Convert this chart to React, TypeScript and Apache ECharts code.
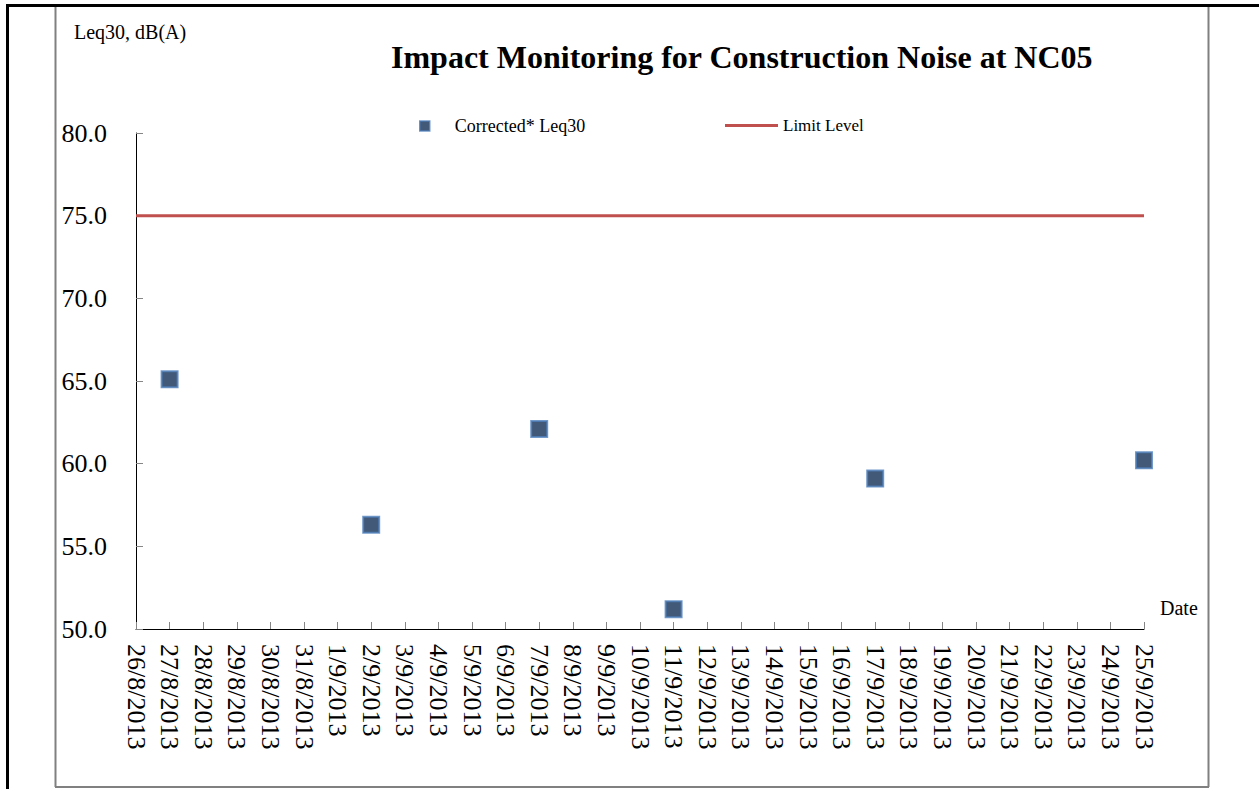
import React, { useEffect, useRef } from "react";
import * as echarts from "echarts";

const dates: string[] = [
  "26/8/2013", "27/8/2013", "28/8/2013", "29/8/2013", "30/8/2013", "31/8/2013",
  "1/9/2013", "2/9/2013", "3/9/2013", "4/9/2013", "5/9/2013", "6/9/2013",
  "7/9/2013", "8/9/2013", "9/9/2013", "10/9/2013", "11/9/2013", "12/9/2013",
  "13/9/2013", "14/9/2013", "15/9/2013", "16/9/2013", "17/9/2013", "18/9/2013",
  "19/9/2013", "20/9/2013", "21/9/2013", "22/9/2013", "23/9/2013", "24/9/2013",
  "25/9/2013",
];

const measuredDates: string[] = ["27/8/2013", "2/9/2013", "7/9/2013", "11/9/2013", "17/9/2013", "25/9/2013"];
const measuredLeq: number[] = [65.1, 56.3, 62.1, 51.2, 59.1, 60.2];
const limitLevel: number = 75;

const FONT = "Liberation Serif";

export default function App() {
  const ref = useRef<HTMLDivElement>(null);

  useEffect(() => {
    if (!ref.current) return;
    const chart = echarts.init(ref.current, null, { renderer: "svg" });
    const scatterData = measuredDates.map((d, i) => [d, measuredLeq[i]]);
    const limitData = dates.map(() => limitLevel);
    chart.setOption({
      animation: false,
      backgroundColor: "#ffffff",
      textStyle: { fontFamily: FONT, color: "#000" },
      grid: { left: 136, right: 115, top: 133, bottom: 160, containLabel: false },
      title: {
        text: "Impact Monitoring for Construction Noise at NC05",
        left: 386,
        top: 36,
        textStyle: { fontFamily: FONT, fontWeight: "bold", fontSize: 32, color: "#000" },
      },
      legend: [
        {
          data: [{ name: "Corrected* Leq30", icon: "rect" }],
          left: 414,
          top: 112,
          itemWidth: 10,
          itemHeight: 10,
          itemGap: 0,
          itemStyle: { color: "#132F55", borderColor: "#4F81BD", borderWidth: 1.5 },
          textStyle: { fontFamily: FONT, fontSize: 18, color: "#000", padding: [0, 0, 0, 20] },
        },
        {
          data: [{ name: "Limit Level", icon: "rect" }],
          left: 720,
          top: 112,
          itemWidth: 53,
          itemHeight: 3,
          textStyle: { fontFamily: FONT, fontSize: 17, color: "#000" },
        },
      ],
      xAxis: {
        type: "category",
        data: dates,
        boundaryGap: false,
        axisLine: { show: true, lineStyle: { color: "#000", width: 1 } },
        axisTick: { show: true, inside: true, length: 7, interval: 0, lineStyle: { color: "#868686" } },
        axisLabel: {
          interval: 0,
          rotate: -90,
          margin: 15,
          fontFamily: FONT,
          fontSize: 26,
          color: "#000",
        },
        splitLine: { show: false },
      },
      yAxis: {
        type: "value",
        min: 50,
        max: 80,
        interval: 5,
        axisLine: { show: true, lineStyle: { color: "#000", width: 1 } },
        axisTick: { show: true, inside: true, length: 7, lineStyle: { color: "#868686" } },
        axisLabel: {
          margin: 29,
          fontFamily: FONT,
          fontSize: 26,
          color: "#000",
          formatter: (v: number) => v.toFixed(1),
        },
        splitLine: { show: false },
      },
      series: [
        {
          name: "Corrected* Leq30",
          type: "scatter",
          data: scatterData,
          symbol: "rect",
          symbolSize: 16,
          itemStyle: { color: "#132F55", borderColor: "#4F81BD", borderWidth: 2 },
          z: 3,
        },
        {
          name: "Limit Level",
          type: "line",
          data: limitData,
          showSymbol: false,
          symbol: "none",
          lineStyle: { color: "#C0504D", width: 3 },
          itemStyle: { color: "#C0504D" },
          z: 2,
        },
      ],
      graphic: [
        { type: "line", shape: { x1: 7.5, y1: 5, x2: 7.5, y2: 789 }, style: { stroke: "#000", lineWidth: 3 } },
        { type: "line", shape: { x1: 6, y1: 5.5, x2: 1259, y2: 5.5 }, style: { stroke: "#000", lineWidth: 3 } },
        { type: "line", shape: { x1: 55.5, y1: 7, x2: 55.5, y2: 787 }, style: { stroke: "#808080", lineWidth: 2 } },
        { type: "line", shape: { x1: 1208.5, y1: 7, x2: 1208.5, y2: 787 }, style: { stroke: "#808080", lineWidth: 2 } },
        { type: "line", shape: { x1: 55, y1: 787, x2: 1209, y2: 787 }, style: { stroke: "#808080", lineWidth: 2 } },
        {
          type: "text",
          left: 74,
          top: 22,
          style: { text: "Leq30, dB(A)", fontFamily: FONT, fontSize: 20, fill: "#000" },
        },
        {
          type: "text",
          left: 1160,
          top: 598,
          style: { text: "Date", fontFamily: FONT, fontSize: 20, fill: "#000" },
        },
      ],
    });
    return () => chart.dispose();
  }, []);

  return (
    <div
      ref={ref}
      style={{ position: "absolute", left: 0, top: 0, width: 1259, height: 789 }}
    />
  );
}
